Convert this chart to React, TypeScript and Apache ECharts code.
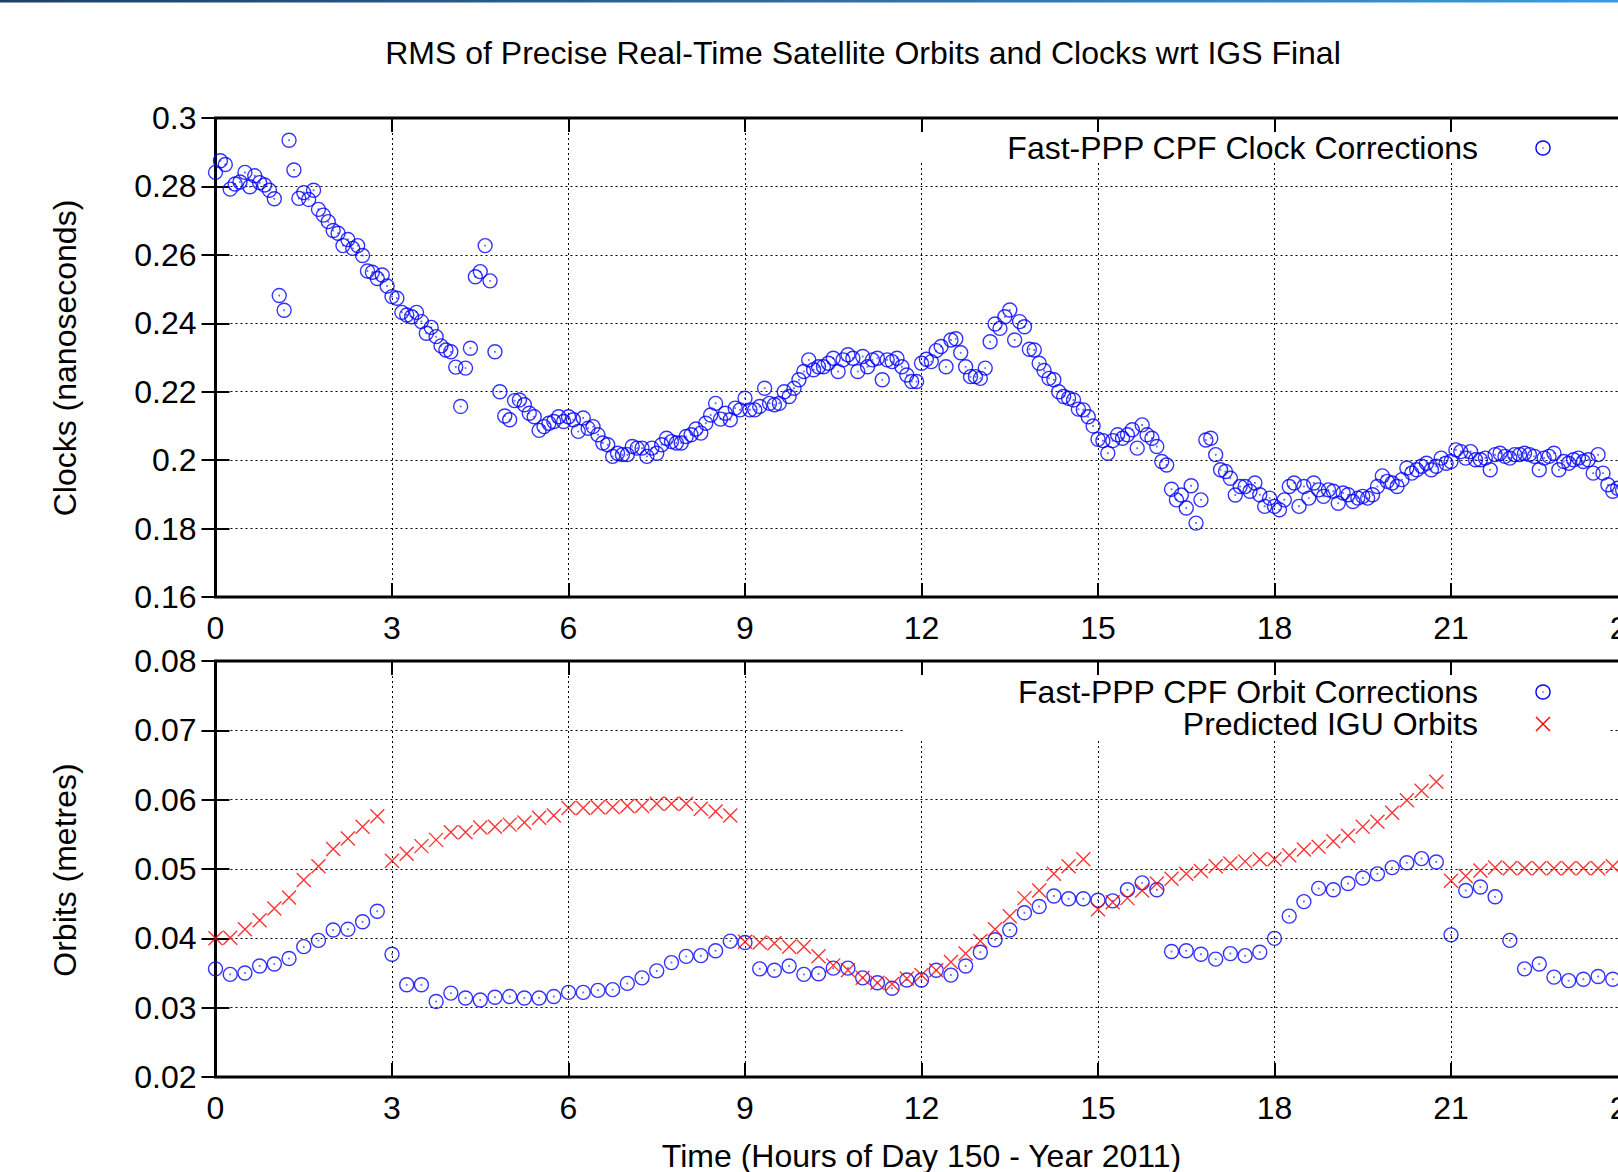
import React, { useEffect, useRef } from "react";
import * as echarts from "echarts";

// ---------- texts ----------
const TITLE = "RMS of Precise Real-Time Satellite Orbits and Clocks wrt IGS Final";
const CLOCK_AXIS_NAME = "Clocks (nanoseconds)";
const ORBIT_AXIS_NAME = "Orbits (metres)";
const TIME_AXIS_NAME = "Time (Hours of Day 150 - Year 2011)";
const CLOCK_LEGEND = "Fast-PPP CPF Clock Corrections";
const ORBIT_LEGEND = "Fast-PPP CPF Orbit Corrections";
const IGU_LEGEND = "Predicted IGU Orbits";

// ---------- axes ----------
const X_MIN = 0;
const X_MAX = 24;
const X_INTERVAL = 3;
const CLOCK_Y_MIN = 0.16;
const CLOCK_Y_MAX = 0.3;
const CLOCK_Y_INTERVAL = 0.02;
const ORBIT_Y_MIN = 0.02;
const ORBIT_Y_MAX = 0.08;
const ORBIT_Y_INTERVAL = 0.01;

// ---------- data ----------
// sampling: clocks every 5 minutes, orbits every 15 minutes (hours of day)
const CLOCK_STEP_HOURS = 5 / 60;
const ORBIT_STEP_HOURS = 0.25;

// Fast-PPP CPF clock corrections RMS (ns)
const CLOCK_RMS = [
  // 0h - 6h
  0.2841, 0.2875, 0.2864, 0.2792, 0.2807, 0.2813, 0.2841, 0.2799, 0.2831, 0.2811,
  0.2804, 0.2789, 0.2764, 0.2481, 0.2438, 0.2935, 0.2848, 0.2765, 0.2782, 0.2762,
  0.2789, 0.2733, 0.2716, 0.2697, 0.2671, 0.2663, 0.2627, 0.2645, 0.2619, 0.2627,
  0.2598, 0.2553, 0.2549, 0.2531, 0.2541, 0.2509, 0.2478, 0.2473, 0.2432, 0.2424,
  0.2419, 0.2432, 0.2405, 0.2371, 0.2388, 0.2361, 0.2334, 0.2322, 0.2317, 0.2272,
  0.2157, 0.2269, 0.2327, 0.2536, 0.2551, 0.2627, 0.2524, 0.2317, 0.2200, 0.2129,
  0.2118, 0.2174, 0.2176, 0.2162, 0.2137, 0.2127, 0.2087, 0.2098, 0.2108, 0.2113,
  0.2127, 0.2113,
  // 6h - 12h
  0.2127, 0.2118, 0.2084, 0.2123, 0.2093, 0.2098, 0.2074, 0.2050, 0.2045, 0.2011,
  0.2020, 0.2016, 0.2016, 0.2040, 0.2035, 0.2035, 0.2011, 0.2035, 0.2020, 0.2045,
  0.2064, 0.2054, 0.2050, 0.2050, 0.2069, 0.2074, 0.2091, 0.2079, 0.2108, 0.2132,
  0.2166, 0.2120, 0.2137, 0.2118, 0.2152, 0.2147, 0.2181, 0.2147, 0.2147, 0.2157,
  0.2210, 0.2166, 0.2162, 0.2166, 0.2200, 0.2186, 0.2210, 0.2235, 0.2259, 0.2293,
  0.2264, 0.2273, 0.2273, 0.2283, 0.2298, 0.2259, 0.2293, 0.2308, 0.2298, 0.2259,
  0.2303, 0.2273, 0.2293, 0.2298, 0.2235, 0.2293, 0.2288, 0.2298, 0.2273, 0.2249,
  0.2230,
  // 12h - 18h
  0.2230, 0.2283, 0.2295, 0.2288, 0.2320, 0.2332, 0.2273, 0.2351, 0.2355, 0.2314,
  0.2273, 0.2244, 0.2244, 0.2239, 0.2269, 0.2346, 0.2398, 0.2385, 0.2419, 0.2439,
  0.2351, 0.2405, 0.2390, 0.2324, 0.2322, 0.2283, 0.2262, 0.2239, 0.2235, 0.2200,
  0.2186, 0.2181, 0.2176, 0.2149, 0.2147, 0.2127, 0.2100, 0.2061, 0.2057, 0.2020,
  0.2057, 0.2074, 0.2064, 0.2074, 0.2089, 0.2035, 0.2103, 0.2074, 0.2064, 0.2040,
  0.1996, 0.1986, 0.1915, 0.1884, 0.1898, 0.1860, 0.1925, 0.1816, 0.1884, 0.2059,
  0.2064, 0.2016, 0.1972, 0.1967, 0.1947, 0.1898, 0.1923, 0.1923, 0.1909, 0.1933,
  // 18h - 24h
  0.1899, 0.1865, 0.1889, 0.1865, 0.1855, 0.1884, 0.1923, 0.1933, 0.1865, 0.1923,
  0.1889, 0.1933, 0.1913, 0.1894, 0.1913, 0.1909, 0.1874, 0.1904, 0.1899, 0.1879,
  0.1889, 0.1894, 0.1889, 0.1899, 0.1923, 0.1954, 0.1938, 0.1933, 0.1923, 0.1943,
  0.1977, 0.1962, 0.1972, 0.1982, 0.1991, 0.1972, 0.1982, 0.2006, 0.1991, 0.1996,
  0.2030, 0.2025, 0.2006, 0.2025, 0.2001, 0.2001, 0.2006, 0.1972, 0.2016, 0.2020,
  0.2011, 0.2006, 0.2016, 0.2016, 0.2020, 0.2016, 0.2011, 0.1972, 0.2006, 0.2011,
  0.2020, 0.1972, 0.1996, 0.1991, 0.2001, 0.2006, 0.1996, 0.2001, 0.1962, 0.2016,
  0.1962, 0.1928, 0.1909, 0.1918, 0.1913,
];

// Fast-PPP CPF orbit corrections RMS (m)
const ORBIT_RMS = [
  0.0356, 0.0348, 0.0350, 0.0360, 0.0363, 0.0371, 0.0388, 0.0397, 0.0412, 0.0413, 0.0424, 0.0439,
  0.0377, 0.0333, 0.0333, 0.0309, 0.0321, 0.0314, 0.0311, 0.0315, 0.0316, 0.0314, 0.0314, 0.0316,
  0.0322, 0.0322, 0.0325, 0.0326, 0.0335, 0.0343, 0.0353, 0.0365, 0.0374, 0.0375, 0.0382, 0.0396,
  0.0394, 0.0356, 0.0354, 0.0360, 0.0348, 0.0349, 0.0357, 0.0357, 0.0343, 0.0336, 0.0328, 0.0340,
  0.0340, 0.0354, 0.0347, 0.0360, 0.0380, 0.0398, 0.0412, 0.0437, 0.0446, 0.0461, 0.0457, 0.0457,
  0.0455, 0.0454, 0.0470, 0.0480, 0.0470, 0.0381, 0.0382, 0.0377, 0.0370, 0.0378, 0.0375, 0.0380,
  0.0400, 0.0432, 0.0453, 0.0472, 0.0470, 0.0479, 0.0487, 0.0493, 0.0502, 0.0509, 0.0515, 0.0510,
  0.0405, 0.0469, 0.0474, 0.0460, 0.0397, 0.0356, 0.0363, 0.0344, 0.0339, 0.0341, 0.0345, 0.0341,
];

// Predicted IGU orbits RMS (m)
const IGU_RMS = [
  0.0400, 0.0401, 0.0413, 0.0426, 0.0443, 0.0459, 0.0484, 0.0504, 0.0529, 0.0544, 0.0561, 0.0576,
  0.0512, 0.0522, 0.0533, 0.0542, 0.0553, 0.0553, 0.0560, 0.0561, 0.0564, 0.0567, 0.0574, 0.0577,
  0.0588, 0.0588, 0.0589, 0.0589, 0.0591, 0.0591, 0.0594, 0.0594, 0.0594, 0.0587, 0.0583, 0.0577,
  0.0395, 0.0394, 0.0393, 0.0388, 0.0388, 0.0374, 0.0361, 0.0354, 0.0343, 0.0336, 0.0334, 0.0342,
  0.0347, 0.0354, 0.0366, 0.0378, 0.0396, 0.0413, 0.0432, 0.0458, 0.0469, 0.0493, 0.0504, 0.0514,
  0.0442, 0.0452, 0.0458, 0.0469, 0.0479, 0.0486, 0.0493, 0.0497, 0.0504, 0.0508, 0.0511, 0.0514,
  0.0514, 0.0520, 0.0528, 0.0532, 0.0540, 0.0548, 0.0561, 0.0568, 0.0581, 0.0599, 0.0613, 0.0626,
  0.0483, 0.0490, 0.0498, 0.0502, 0.0501, 0.0501, 0.0501, 0.0501, 0.0501, 0.0501, 0.0501, 0.0504,
];

// ---------- style ----------
const FONT = "Liberation Sans, Arial, Helvetica, sans-serif";
const FS = 32;
const BLUE = "#0000ff";
const RED = "#ff0000";
const CIRCLE_SYMBOL =
  "path://M0,10A10,10 0 1,0 20,10A10,10 0 1,0 0,10Z M9.6,10A0.4,0.4 0 1,0 10.4,10A0.4,0.4 0 1,0 9.6,10Z";
const CROSS_SYMBOL = "path://M0,0L20,20M20,0L0,20";

const PLOT_LEFT = 215.5;
const PLOT_WIDTH = 1412;
const TOP_GRID_TOP = 118;
const TOP_GRID_H = 479;
const BOT_GRID_TOP = 661;
const BOT_GRID_H = 416;

function xAxisBase(gridIndex: number, position: "top" | "bottom", main: boolean) {
  return {
    type: "value",
    gridIndex,
    position,
    min: X_MIN,
    max: X_MAX,
    interval: X_INTERVAL,
    axisLine: { show: false },
    axisTick: { show: true, inside: true, length: 14, lineStyle: { color: "#000", width: 2 } },
    axisLabel: main
      ? { show: true, color: "#000", fontFamily: FONT, fontSize: FS, margin: 15 }
      : { show: false },
    splitLine: main
      ? { show: true, lineStyle: { color: "#000", width: 1, type: [2, 3] } }
      : { show: false },
  };
}

function yAxisBase(
  gridIndex: number,
  position: "left" | "right",
  main: boolean,
  min: number,
  max: number,
  interval: number
) {
  return {
    type: "value",
    gridIndex,
    position,
    min,
    max,
    interval,
    axisLine: { show: false },
    axisTick: { show: true, inside: true, length: 14, lineStyle: { color: "#000", width: 2 } },
    axisLabel: main
      ? { show: true, color: "#000", fontFamily: FONT, fontSize: FS, margin: 19 }
      : { show: false },
    splitLine: main
      ? { show: true, lineStyle: { color: "#000", width: 1, type: [2, 3] } }
      : { show: false },
  };
}

export default function App() {
  const ref = useRef<HTMLDivElement>(null);

  useEffect(() => {
    if (!ref.current) return;
    const chart = echarts.init(ref.current, undefined, { renderer: "svg" });

    const clockData = CLOCK_RMS.map((v, i) => [i * CLOCK_STEP_HOURS, v]);
    const orbitData = ORBIT_RMS.map((v, i) => [i * ORBIT_STEP_HOURS, v]);
    const iguData = IGU_RMS.map((v, i) => [i * ORBIT_STEP_HOURS, v]);

    const textStyle = (text: string, align: string, lineHeight?: number) => ({
      text,
      fill: "#000",
      fontFamily: FONT,
      fontSize: FS,
      align,
      verticalAlign: "middle",
      ...(lineHeight ? { lineHeight } : {}),
    });

    const gridBase = {
      left: PLOT_LEFT,
      width: PLOT_WIDTH,
      show: true,
      borderColor: "#000",
      borderWidth: 3,
      backgroundColor: "transparent",
      containLabel: false,
      outerBoundsMode: "none",
    };

    const option: any = {
      animation: false,
      backgroundColor: "#ffffff",
      grid: [
        { ...gridBase, top: TOP_GRID_TOP, height: TOP_GRID_H },
        { ...gridBase, top: BOT_GRID_TOP, height: BOT_GRID_H },
      ],
      xAxis: [
        xAxisBase(0, "bottom", true),
        xAxisBase(0, "top", false),
        xAxisBase(1, "bottom", true),
        xAxisBase(1, "top", false),
      ],
      yAxis: [
        yAxisBase(0, "left", true, CLOCK_Y_MIN, CLOCK_Y_MAX, CLOCK_Y_INTERVAL),
        yAxisBase(0, "right", false, CLOCK_Y_MIN, CLOCK_Y_MAX, CLOCK_Y_INTERVAL),
        yAxisBase(1, "left", true, ORBIT_Y_MIN, ORBIT_Y_MAX, ORBIT_Y_INTERVAL),
        yAxisBase(1, "right", false, ORBIT_Y_MIN, ORBIT_Y_MAX, ORBIT_Y_INTERVAL),
      ],
      series: [
        {
          name: CLOCK_LEGEND,
          type: "scatter",
          xAxisIndex: 0,
          yAxisIndex: 0,
          data: clockData,
          symbol: CIRCLE_SYMBOL,
          symbolSize: 14,
          itemStyle: { color: "transparent", borderColor: BLUE, borderWidth: 1.4 },
          emphasis: { disabled: true },
          silent: true,
          z: 3,
        },
        {
          name: ORBIT_LEGEND,
          type: "scatter",
          xAxisIndex: 2,
          yAxisIndex: 2,
          data: orbitData,
          symbol: CIRCLE_SYMBOL,
          symbolSize: 14,
          itemStyle: { color: "transparent", borderColor: BLUE, borderWidth: 1.4 },
          emphasis: { disabled: true },
          silent: true,
          z: 3,
        },
        {
          name: IGU_LEGEND,
          type: "scatter",
          xAxisIndex: 2,
          yAxisIndex: 2,
          data: iguData,
          symbol: CROSS_SYMBOL,
          symbolSize: 14,
          itemStyle: { color: "transparent", borderColor: RED, borderWidth: 1.4 },
          emphasis: { disabled: true },
          silent: true,
          z: 4,
        },
      ],
      graphic: {
        elements: [
          {
            type: "rect",
            z: 10,
            shape: { x: 0, y: 0, width: 1618, height: 2.5 },
            style: {
              fill: new echarts.graphic.LinearGradient(0, 0, 1, 0, [
                { offset: 0, color: "#1f3f66" },
                { offset: 1, color: "#3a9be0" },
              ]),
            },
            silent: true,
          },
          { type: "text", z: 10, x: 863, y: 53, style: textStyle(TITLE, "center"), silent: true },
          {
            type: "text",
            z: 10,
            x: 65,
            y: 358,
            rotation: Math.PI / 2,
            style: textStyle(CLOCK_AXIS_NAME, "center"),
            silent: true,
          },
          {
            type: "text",
            z: 10,
            x: 65,
            y: 870,
            rotation: Math.PI / 2,
            style: textStyle(ORBIT_AXIS_NAME, "center"),
            silent: true,
          },
          { type: "text", z: 10, x: 921.5, y: 1156, style: textStyle(TIME_AXIS_NAME, "center"), silent: true },
          // key boxes (hide grid lines behind the key)
          {
            type: "rect",
            z: 1,
            shape: { x: 905, y: TOP_GRID_TOP + 15, width: 705, height: 163 - (TOP_GRID_TOP + 15) },
            style: { fill: "#ffffff" },
            silent: true,
          },
          {
            type: "rect",
            z: 1,
            shape: { x: 905, y: BOT_GRID_TOP + 15, width: 705, height: 739 - (BOT_GRID_TOP + 15) },
            style: { fill: "#ffffff" },
            silent: true,
          },
          { type: "text", z: 10, x: 1478, y: 148, style: textStyle(CLOCK_LEGEND, "right", 30), silent: true },
          { type: "text", z: 10, x: 1478, y: 692, style: textStyle(ORBIT_LEGEND, "right", 30), silent: true },
          { type: "text", z: 10, x: 1478, y: 724, style: textStyle(IGU_LEGEND, "right", 30), silent: true },
          {
            type: "circle",
            z: 10,
            shape: { cx: 1543, cy: 148, r: 7 },
            style: { fill: "none", stroke: BLUE, lineWidth: 1.4 },
            silent: true,
          },
          { type: "circle", z: 10, shape: { cx: 1543, cy: 148, r: 0.6 }, style: { fill: BLUE }, silent: true },
          {
            type: "circle",
            z: 10,
            shape: { cx: 1543, cy: 692, r: 7 },
            style: { fill: "none", stroke: BLUE, lineWidth: 1.4 },
            silent: true,
          },
          { type: "circle", z: 10, shape: { cx: 1543, cy: 692, r: 0.6 }, style: { fill: BLUE }, silent: true },
          {
            type: "line",
            z: 10,
            shape: { x1: 1536, y1: 717, x2: 1550, y2: 731 },
            style: { stroke: RED, lineWidth: 1.4 },
            silent: true,
          },
          {
            type: "line",
            z: 10,
            shape: { x1: 1550, y1: 717, x2: 1536, y2: 731 },
            style: { stroke: RED, lineWidth: 1.4 },
            silent: true,
          },
        ],
      },
    };

    chart.setOption(option);
    return () => {
      chart.dispose();
    };
  }, []);

  return (
    <div
      ref={ref}
      style={{
        position: "fixed",
        left: 0,
        top: 0,
        width: 1618,
        height: 1172,
        background: "#ffffff",
        overflow: "hidden",
      }}
    />
  );
}
